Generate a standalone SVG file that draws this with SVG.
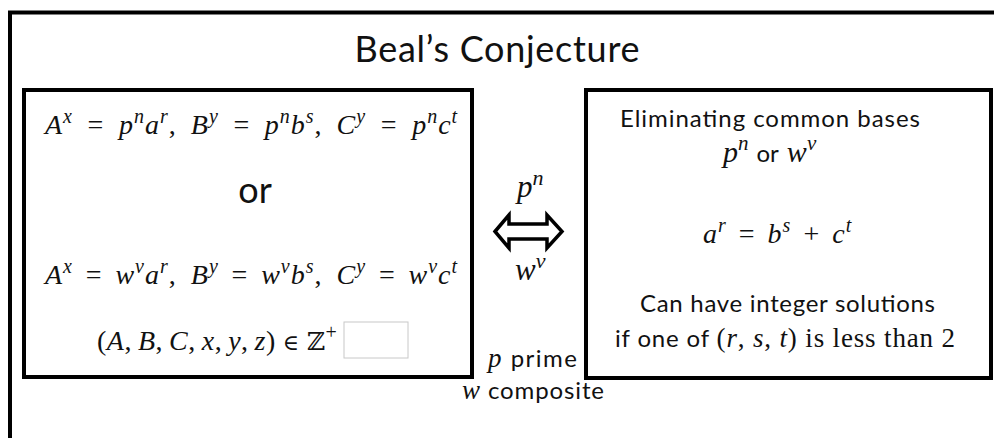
<svg xmlns="http://www.w3.org/2000/svg" width="994" height="438" viewBox="0 0 994 438">
<style>
.frame{fill:none;stroke:#000;stroke-width:4}
.box{fill:#fff;stroke:#000;stroke-width:4}
.sans{font-family:Lato,"Open Sans","Liberation Sans",sans-serif;fill:#111}
.math{font-family:"Liberation Serif","DejaVu Serif",serif;font-style:italic;fill:#111}
.up{font-style:normal}
.sup{font-size:20px}
.ds{font-family:"DejaVu Serif",serif;font-style:normal}
</style>
<rect width="994" height="438" fill="#fff"/>
<path class="frame" d="M10,440 V12.5 H996"/>
<text class="sans" x="497" y="62" text-anchor="middle" font-size="36" textLength="285">Beal’s Conjecture</text>

<g id="left">
<rect class="box" x="24" y="90" width="448" height="287"/>
<text class="math" x="45" y="134" font-size="28" letter-spacing="1">A<tspan class="sup" dy="-11">x</tspan><tspan class="up" dy="11" dx="14.6">=</tspan><tspan dx="14.6">p</tspan><tspan class="sup" dy="-11">n</tspan><tspan dy="11">a</tspan><tspan class="sup" dy="-11">r</tspan><tspan class="up" dy="11">,</tspan><tspan dx="14">B</tspan><tspan class="sup" dy="-11">y</tspan><tspan class="up" dy="11" dx="14.6">=</tspan><tspan dx="14.6">p</tspan><tspan class="sup" dy="-11">n</tspan><tspan dy="11">b</tspan><tspan class="sup" dy="-11">s</tspan><tspan class="up" dy="11">,</tspan><tspan dx="14">C</tspan><tspan class="sup" dy="-11">y</tspan><tspan class="up" dy="11" dx="14.6">=</tspan><tspan dx="14.6">p</tspan><tspan class="sup" dy="-11">n</tspan><tspan dy="11">c</tspan><tspan class="sup" dy="-11">t</tspan></text>
<text class="sans" x="255" y="203" text-anchor="middle" font-size="36">or</text>
<text class="math" x="45" y="284" font-size="28" letter-spacing="1">A<tspan class="sup" dy="-11">x</tspan><tspan class="up" dy="11" dx="12.8">=</tspan><tspan dx="12.8">w</tspan><tspan class="sup" dy="-11">v</tspan><tspan dy="11">a</tspan><tspan class="sup" dy="-11">r</tspan><tspan class="up" dy="11">,</tspan><tspan dx="14">B</tspan><tspan class="sup" dy="-11">y</tspan><tspan class="up" dy="11" dx="12.8">=</tspan><tspan dx="12.8">w</tspan><tspan class="sup" dy="-11">v</tspan><tspan dy="11">b</tspan><tspan class="sup" dy="-11">s</tspan><tspan class="up" dy="11">,</tspan><tspan dx="14">C</tspan><tspan class="sup" dy="-11">y</tspan><tspan class="up" dy="11" dx="12.8">=</tspan><tspan dx="12.8">w</tspan><tspan class="sup" dy="-11">v</tspan><tspan dy="11">c</tspan><tspan class="sup" dy="-11">t</tspan></text>
<text class="math" x="97" y="350" font-size="28" letter-spacing="0.5"><tspan class="up">(</tspan>A<tspan class="up">,</tspan><tspan dx="6">B</tspan><tspan class="up">,</tspan><tspan dx="6">C</tspan><tspan class="up">,</tspan><tspan dx="6">x</tspan><tspan class="up">,</tspan><tspan dx="6">y</tspan><tspan class="up">,</tspan><tspan dx="6">z</tspan><tspan class="up">)</tspan><tspan class="ds" dx="7" font-size="22">∈</tspan><tspan class="ds" dx="7" font-size="25">ℤ</tspan><tspan class="up sup" dy="-11">+</tspan></text>
<rect x="344" y="322" width="64" height="36" fill="#fff" stroke="#c8c8c8" stroke-width="1"/>
</g>

<g id="right">
<rect class="box" x="586" y="90" width="405" height="288"/>
<text class="sans" x="620" y="127" font-size="24" textLength="300">Eliminating common bases</text>
<text x="723" y="162" font-size="30"><tspan class="math">p</tspan><tspan class="math" font-size="21" dy="-12">n</tspan><tspan class="sans" dy="12" dx="8" font-size="24">or</tspan><tspan class="math" dx="8">w</tspan><tspan class="math" font-size="21" dy="-12">v</tspan></text>
<text class="math" x="703" y="243" font-size="28" letter-spacing="1">a<tspan class="sup" dy="-11">r</tspan><tspan class="up" dy="11" dx="12">=</tspan><tspan dx="12">b</tspan><tspan class="sup" dy="-11">s</tspan><tspan class="up" dy="11" dx="12">+</tspan><tspan dx="12">c</tspan><tspan class="sup" dy="-11">t</tspan></text>
<text class="sans" x="640" y="312" font-size="24" textLength="295">Can have integer solutions</text>
<text x="615" y="347" font-size="24" textLength="340"><tspan class="sans">if one of </tspan><tspan class="math up" font-size="27">(</tspan><tspan class="math" font-size="27">r</tspan><tspan class="math up" font-size="27">, </tspan><tspan class="math" font-size="27">s</tspan><tspan class="math up" font-size="27">, </tspan><tspan class="math" font-size="27">t</tspan><tspan class="math up" font-size="27">) is less than 2</tspan></text>
</g>

<g id="connectors">
<polygon points="495,231.5 509,215 509,224 547,224 547,215 562,231.5 547,248 547,239 509,239 509,248" fill="#fff" stroke="#000" stroke-width="3.5" stroke-linejoin="miter"/>
<text x="517" y="197" font-size="31"><tspan class="math">p</tspan><tspan class="math" dy="-12" font-size="22">n</tspan></text>
<text x="515" y="280" font-size="31"><tspan class="math">w</tspan><tspan class="math" dy="-12" font-size="22">v</tspan></text>
<text x="488" y="367" font-size="24" textLength="89"><tspan class="math" font-size="27">p</tspan><tspan class="sans"> prime</tspan></text>
<text x="462" y="399" font-size="24" textLength="142"><tspan class="math" font-size="27">w</tspan><tspan class="sans"> composite</tspan></text>
</g>
</svg>
